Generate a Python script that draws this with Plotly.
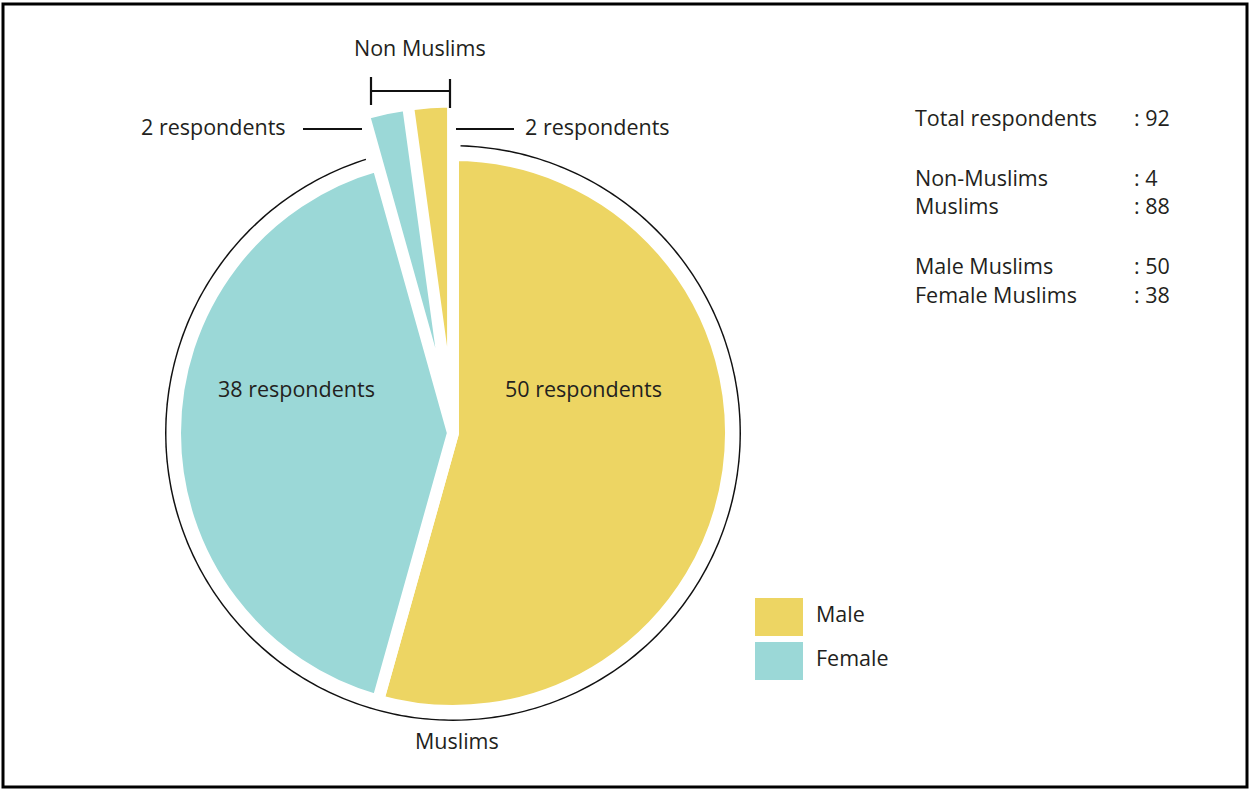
import numpy as np
import plotly.graph_objects as go

# ---------------- data ----------------
categories = ["Male Muslims", "Female Muslims", "Female Non-Muslims", "Male Non-Muslims"]
values = [50, 38, 2, 2]
genders = ["Male", "Female", "Female", "Male"]
religion = ["Muslims", "Muslims", "Non Muslims", "Non Muslims"]
legend_labels = ["Male", "Female"]

# ---------------- style ----------------
W, H = 1250, 789
YELLOW = "#EDD563"
TEAL = "#9BD8D7"
TXT = "#231F20"
FONT = "Open Sans"
FS = 21.5
gender_color = {"Male": YELLOW, "Female": TEAL}

def px(x, y):
    """screen pixel -> paper coords"""
    return x / W, 1 - y / H

# pie geometry (screen pixels)
CX, CY = 453, 433
R_PIE = 278
PULL = 0.18
R_RING = 288

is_non = [r == "Non Muslims" for r in religion]
pulls = [PULL if n else 0 for n in is_non]
line_w = [5 if n else 12 for n in is_non]
half = R_PIE * (1 + PULL)

fig = go.Figure()
fig.add_trace(go.Pie(
    labels=categories,
    values=values,
    sort=False,
    direction="clockwise",
    rotation=0,
    pull=pulls,
    marker=dict(colors=[gender_color[g] for g in genders],
                line=dict(color="white", width=line_w)),
    textinfo="none",
    hoverinfo="label+value",
    showlegend=False,
    domain=dict(x=[px(CX - half, 0)[0], px(CX + half, 0)[0]],
                y=[px(0, CY + half)[1], px(0, CY - half)[1]]),
))

# outer arc around the Muslim slices (angles derived from the data)
total = sum(values)
muslim_total = sum(v for v, n in zip(values, is_non) if not n)
arc_end = muslim_total / total * 360
theta = np.linspace(1.5, arc_end - 2.0, 400)
fig.add_trace(go.Scatterpolar(
    r=np.ones_like(theta), theta=theta, mode="lines",
    line=dict(color="#111111", width=3), hoverinfo="skip", showlegend=False,
))
fig.update_layout(polar=dict(
    domain=dict(x=[px(CX - R_RING, 0)[0], px(CX + R_RING, 0)[0]],
                y=[px(0, CY + R_RING)[1], px(0, CY - R_RING)[1]]),
    bgcolor="rgba(0,0,0,0)",
    radialaxis=dict(visible=False, range=[0, 1]),
    angularaxis=dict(visible=False, rotation=90, direction="clockwise"),
))

shapes = []
annotations = []

def line(x0, y0, x1, y1, w=2.2, color="#111111"):
    a, b = px(x0, y0)
    c, d = px(x1, y1)
    shapes.append(dict(type="line", xref="paper", yref="paper", x0=a, y0=b, x1=c, y1=d,
                       line=dict(color=color, width=w)))

def text(x, y, s, size=FS, anchor="center"):
    a, b = px(x, y)
    annotations.append(dict(x=a, y=b, xref="paper", yref="paper", text=s, showarrow=False,
                            xanchor=anchor, yanchor="middle",
                            font=dict(family=FONT, size=size, color=TXT)))

# frame
a0, b0 = px(3, 4)
a1, b1 = px(1247, 787)
shapes.append(dict(type="rect", xref="paper", yref="paper",
                   x0=a0, x1=a1, y0=b1, y1=b0,
                   line=dict(color="#000000", width=3)))

# bracket for non-Muslims
line(371, 91, 450, 91)
line(371, 77, 371, 105)
line(450, 79, 450, 108)
text(420, 48, "Non Muslims")

# leader lines for small slices
line(303, 129, 362, 129)
line(456, 129, 514, 129)
nm_vals = [v for v, n in zip(values, is_non) if n]
text(288, 126, f"{nm_vals[0]} respondents", anchor="right")
text(523, 126, f"{nm_vals[1]} respondents", anchor="left")

# inside labels
text(583, 389, f"{values[0]} respondents")
text(296, 389, f"{values[1]} respondents")
text(457, 740, "Muslims")

# summary block
non_total = total - muslim_total
rows = [
    ("Total respondents", total, 118),
    ("Non-Muslims", non_total, 177),
    ("Muslims", muslim_total, 206),
    ("Male Muslims", values[0], 265),
    ("Female Muslims", values[1], 294),
]
for lab, v, y in rows:
    text(913, y, lab, anchor="left")
    text(1132, y, f": {v}", anchor="left")

# legend
for lab, y0 in zip(legend_labels, [598, 642]):
    a, b = px(755, y0)
    c, d = px(803, y0 + 38)
    shapes.append(dict(type="rect", xref="paper", yref="paper", x0=a, x1=c, y0=d, y1=b,
                       fillcolor=gender_color[lab], line=dict(width=0)))
    text(814, y0 + 15, lab, anchor="left")

fig.update_layout(
    width=W, height=H,
    margin=dict(l=0, r=0, t=0, b=0),
    paper_bgcolor="white", plot_bgcolor="white",
    shapes=shapes, annotations=annotations,
    showlegend=False,
)

fig.write_html("out.html",
               config={"displayModeBar": False},
               post_script="document.body.style.margin='0';document.body.style.overflow='hidden';")
